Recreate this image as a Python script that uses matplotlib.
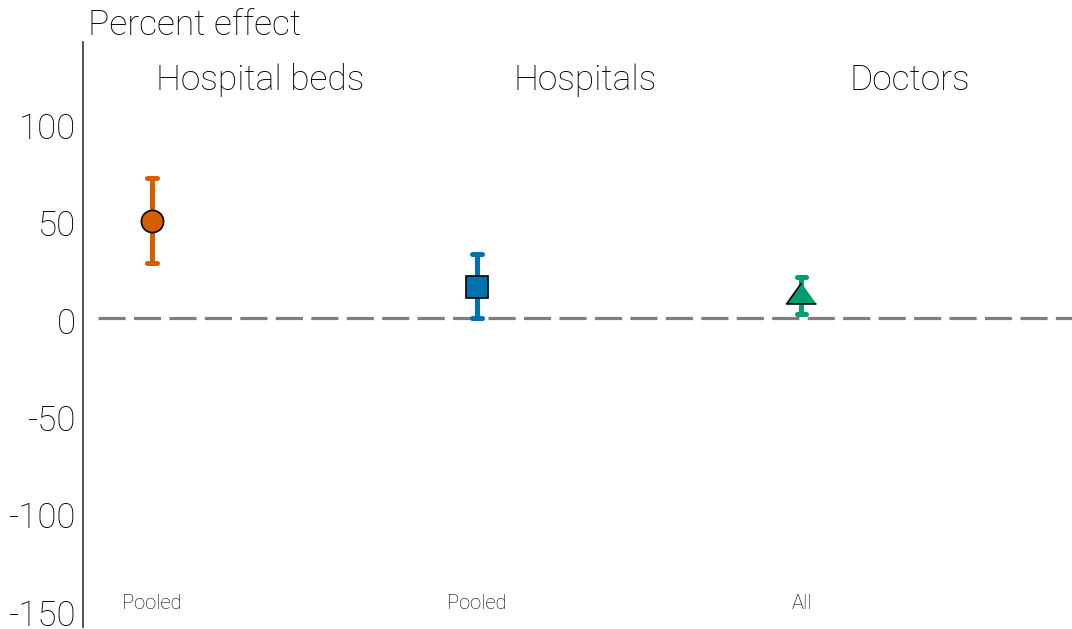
import matplotlib
matplotlib.use("Agg")
import matplotlib.pyplot as plt
import matplotlib.transforms as mtransforms

# Estimates and 95% intervals by outcome
panels = ["Hospital beds", "Hospitals", "Doctors"]
samples = ["Pooled", "Pooled", "All"]
estimate = [50, 16, 13]
ci_low = [28, 0, 2]
ci_high = [72, 33, 21]
colors = ["#D55E00", "#0072B2", "#009E73"]
markers = ["o", "s", [(0, 0.7), (-1, -0.7), (1, -0.7)]]
marker_sizes = [16, 16.5, 21.5]
yticks = [100, 50, 0, -50, -100, -150]

plt.rcParams["font.family"] = ["Roboto", "DejaVu Sans"]
plt.rcParams["font.weight"] = "light"

W, H = 1072, 629
fig = plt.figure(figsize=(W / 100, H / 100), dpi=100)
ax = fig.add_axes([98 / W, 2 / H, (W - 98) / W, (627 - 42) / H])

slot_width = 3
xpos = [i * slot_width + 1 for i in range(len(panels))]

ax.axhline(0, color="#7f7f7f", lw=2.3, dashes=(8.5, 2.6), zorder=1)

cap_half = 0.045
for x, m, lo, hi, c, mk, ms in zip(xpos, estimate, ci_low, ci_high, colors,
                                   markers, marker_sizes):
    ax.plot([x, x], [lo, hi], color=c, lw=3.6, solid_capstyle="butt", zorder=2)
    for yv in (lo, hi):
        ax.plot([x - cap_half, x + cap_half], [yv, yv], color=c, lw=3.6,
                solid_capstyle="round", zorder=2)
    ax.plot([x], [m], marker=mk, ms=ms, color=c, mec="black", mew=1.2,
            zorder=3, linestyle="none")

blend = mtransforms.blended_transform_factory(ax.transData, ax.transAxes)
for i, (name, s) in enumerate(zip(panels, samples)):
    ax.text(i * slot_width + 2, 0.935, name, transform=blend, ha="center",
            va="center", fontsize=25.5, fontweight="light")
    ax.text(xpos[i], 0.040, s, transform=blend, ha="center", va="center",
            fontsize=14.5, fontweight="light")

ax.set_xlim(0.5, 0.5 + slot_width * len(panels))
ax.set_ylim(-158.7, 141.7)

# y tick labels drawn as text, right-aligned just left of the spine
ax.set_yticks(yticks)
ax.tick_params(axis="y", length=0, labelleft=False)
ytrans = mtransforms.blended_transform_factory(ax.transAxes, ax.transData)
ytrans = ytrans + mtransforms.ScaledTranslation(-22 / 100, -2.5 / 100,
                                                fig.dpi_scale_trans)
for t in yticks:
    ax.text(0, t, str(t), transform=ytrans, ha="right", va="center_baseline",
            fontsize=25, fontweight="light", clip_on=False)

ax.set_xticks([])
for side in ("top", "right", "bottom"):
    ax.spines[side].set_visible(False)
ax.spines["left"].set_position(("outward", 10.8))
ax.spines["left"].set_linewidth(1.2)
ax.spines["left"].set_color("#333333")

fig.text(88 / W, 1 - 25 / H, "Percent effect", ha="left", va="center",
         fontsize=25.5, fontweight="light")

fig.savefig("out.png", dpi=100)
